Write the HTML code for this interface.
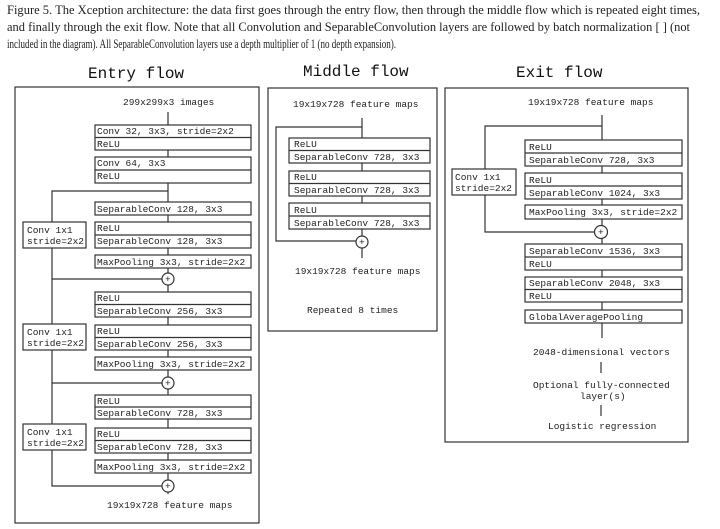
<!DOCTYPE html>
<html><head><meta charset="utf-8"><style>
html,body{margin:0;padding:0;background:#fff;}
svg{display:block}
.c{font-family:"Liberation Serif",serif;font-size:12.5px;fill:#222}
.m{font-family:"Liberation Mono",monospace;font-size:9.5px;fill:#222}
.t{font-family:"Liberation Mono",monospace;font-size:16px;fill:#111}
rect{fill:#fff;stroke:#333;stroke-width:1.2}
line,path{stroke:#333;stroke-width:1.2;fill:none}
circle{fill:#fff;stroke:#333;stroke-width:1.2}
.p{stroke:#333;stroke-width:1}
</style></head><body>
<svg width="720" height="529" viewBox="0 0 720 529" xmlns="http://www.w3.org/2000/svg">
<text class="c" x="7" y="14" textLength="693" lengthAdjust="spacingAndGlyphs">Figure 5. The Xception architecture: the data first goes through the entry flow, then through the middle flow which is repeated eight times,</text>
<text class="c" x="7" y="31" textLength="683" lengthAdjust="spacingAndGlyphs">and finally through the exit flow. Note that all Convolution and SeparableConvolution layers are followed by batch normalization [ ] (not</text>
<text class="c" x="7" y="48" textLength="389" lengthAdjust="spacingAndGlyphs">included in the diagram). All SeparableConvolution layers use a depth multiplier of 1 (no depth expansion).</text>

<text class="t" x="88" y="78">Entry flow</text>
<text class="t" x="303" y="76">Middle flow</text>
<text class="t" x="516" y="77">Exit flow</text>

<!-- ENTRY -->
<rect x="15" y="87" width="244" height="436"/>
<text class="m" x="123" y="105">299x299x3 images</text>
<line x1="168" y1="112" x2="168" y2="494"/>
<path d="M168 191 H52 V486 H162"/>
<line x1="52" y1="279" x2="162" y2="279"/>
<line x1="52" y1="383" x2="162" y2="383"/>
<rect x="95" y="125" width="156" height="25"/><line x1="95" y1="137.5" x2="251" y2="137.5"/>
<text class="m" x="97" y="134">Conv 32, 3x3, stride=2x2</text><text class="m" x="97" y="147">ReLU</text>
<rect x="95" y="157" width="156" height="26"/><line x1="95" y1="170" x2="251" y2="170"/>
<text class="m" x="97" y="166">Conv 64, 3x3</text><text class="m" x="97" y="179">ReLU</text>
<rect x="95" y="202" width="156" height="13"/><text class="m" x="97" y="212">SeparableConv 128, 3x3</text>
<rect x="95" y="222" width="156" height="26"/><line x1="95" y1="235" x2="251" y2="235"/>
<text class="m" x="97" y="231">ReLU</text><text class="m" x="97" y="244">SeparableConv 128, 3x3</text>
<rect x="95" y="255" width="156" height="13"/><text class="m" x="97" y="265">MaxPooling 3x3, stride=2x2</text>
<rect x="23" y="222" width="63" height="26"/><text class="m" x="27" y="233">Conv 1x1</text><text class="m" x="27" y="244">stride=2x2</text>
<circle cx="168" cy="279" r="6"/><text class="m" x="165" y="282">+</text>

<rect x="95" y="292" width="156" height="25"/><line x1="95" y1="304.5" x2="251" y2="304.5"/>
<text class="m" x="97" y="301">ReLU</text><text class="m" x="97" y="314">SeparableConv 256, 3x3</text>
<rect x="95" y="325" width="156" height="25"/><line x1="95" y1="337.5" x2="251" y2="337.5"/>
<text class="m" x="97" y="334">ReLU</text><text class="m" x="97" y="347">SeparableConv 256, 3x3</text>
<rect x="95" y="357" width="156" height="13"/><text class="m" x="97" y="367">MaxPooling 3x3, stride=2x2</text>
<rect x="23" y="324" width="63" height="26"/><text class="m" x="27" y="335">Conv 1x1</text><text class="m" x="27" y="346">stride=2x2</text>
<circle cx="168" cy="383" r="6"/><text class="m" x="165" y="386">+</text>

<rect x="95" y="395" width="156" height="24"/><line x1="95" y1="407" x2="251" y2="407"/>
<text class="m" x="97" y="404">ReLU</text><text class="m" x="97" y="416">SeparableConv 728, 3x3</text>
<rect x="95" y="428" width="156" height="25"/><line x1="95" y1="440.5" x2="251" y2="440.5"/>
<text class="m" x="97" y="437">ReLU</text><text class="m" x="97" y="450">SeparableConv 728, 3x3</text>
<rect x="95" y="460" width="156" height="13"/><text class="m" x="97" y="470">MaxPooling 3x3, stride=2x2</text>
<rect x="23" y="424" width="63" height="26"/><text class="m" x="27" y="435">Conv 1x1</text><text class="m" x="27" y="446">stride=2x2</text>
<circle cx="168" cy="486" r="6"/><text class="m" x="165" y="489">+</text>
<text class="m" x="107" y="508">19x19x728 feature maps</text>

<!-- MIDDLE -->
<rect x="268" y="88" width="169" height="243"/>
<text class="m" x="293" y="107">19x19x728 feature maps</text>
<line x1="362" y1="118" x2="362" y2="258"/>
<path d="M362 127 H276 V241 H356"/>
<rect x="289" y="138" width="141" height="25"/><line x1="289" y1="150.5" x2="430" y2="150.5"/>
<text class="m" x="294" y="147">ReLU</text><text class="m" x="294" y="160">SeparableConv 728, 3x3</text>
<rect x="289" y="171" width="141" height="25"/><line x1="289" y1="183.5" x2="430" y2="183.5"/>
<text class="m" x="294" y="180">ReLU</text><text class="m" x="294" y="193">SeparableConv 728, 3x3</text>
<rect x="289" y="203" width="141" height="26"/><line x1="289" y1="216" x2="430" y2="216"/>
<text class="m" x="294" y="213">ReLU</text><text class="m" x="294" y="226">SeparableConv 728, 3x3</text>
<circle cx="362" cy="242" r="6"/><text class="m" x="359" y="245">+</text>
<text class="m" x="295" y="274">19x19x728 feature maps</text>
<text class="m" x="307" y="313">Repeated 8 times</text>

<!-- EXIT -->
<rect x="445" y="88" width="243" height="354"/>
<text class="m" x="528" y="105">19x19x728 feature maps</text>
<line x1="602" y1="115" x2="602" y2="338"/>
<path d="M602 126 H485 V232 H595"/>
<rect x="525" y="140" width="157" height="26"/><line x1="525" y1="153" x2="682" y2="153"/>
<text class="m" x="529" y="150">ReLU</text><text class="m" x="529" y="163">SeparableConv 728, 3x3</text>
<rect x="525" y="173" width="157" height="26"/><line x1="525" y1="186" x2="682" y2="186"/>
<text class="m" x="529" y="183">ReLU</text><text class="m" x="529" y="196">SeparableConv 1024, 3x3</text>
<rect x="525" y="205" width="157" height="14"/><text class="m" x="529" y="215">MaxPooling 3x3, stride=2x2</text>
<rect x="452" y="169" width="64" height="26"/><text class="m" x="455" y="180">Conv 1x1</text><text class="m" x="455" y="191">stride=2x2</text>
<circle cx="601" cy="232" r="6.5"/><text class="m" x="598" y="235">+</text>
<rect x="525" y="244" width="157" height="26"/><line x1="525" y1="257" x2="682" y2="257"/>
<text class="m" x="529" y="254">SeparableConv 1536, 3x3</text><text class="m" x="529" y="267">ReLU</text>
<rect x="525" y="277" width="157" height="25"/><line x1="525" y1="289.5" x2="682" y2="289.5"/>
<text class="m" x="529" y="286">SeparableConv 2048, 3x3</text><text class="m" x="529" y="299">ReLU</text>
<rect x="525" y="310" width="157" height="13"/><text class="m" x="529" y="320">GlobalAveragePooling</text>
<text class="m" x="533" y="355">2048-dimensional vectors</text>
<line x1="601" y1="362" x2="601" y2="373"/>
<text class="m" x="533" y="388">Optional fully-connected</text>
<text class="m" x="580" y="399">layer(s)</text>
<line x1="601" y1="405" x2="601" y2="416"/>
<text class="m" x="548" y="429">Logistic regression</text>
</svg>
</body></html>
